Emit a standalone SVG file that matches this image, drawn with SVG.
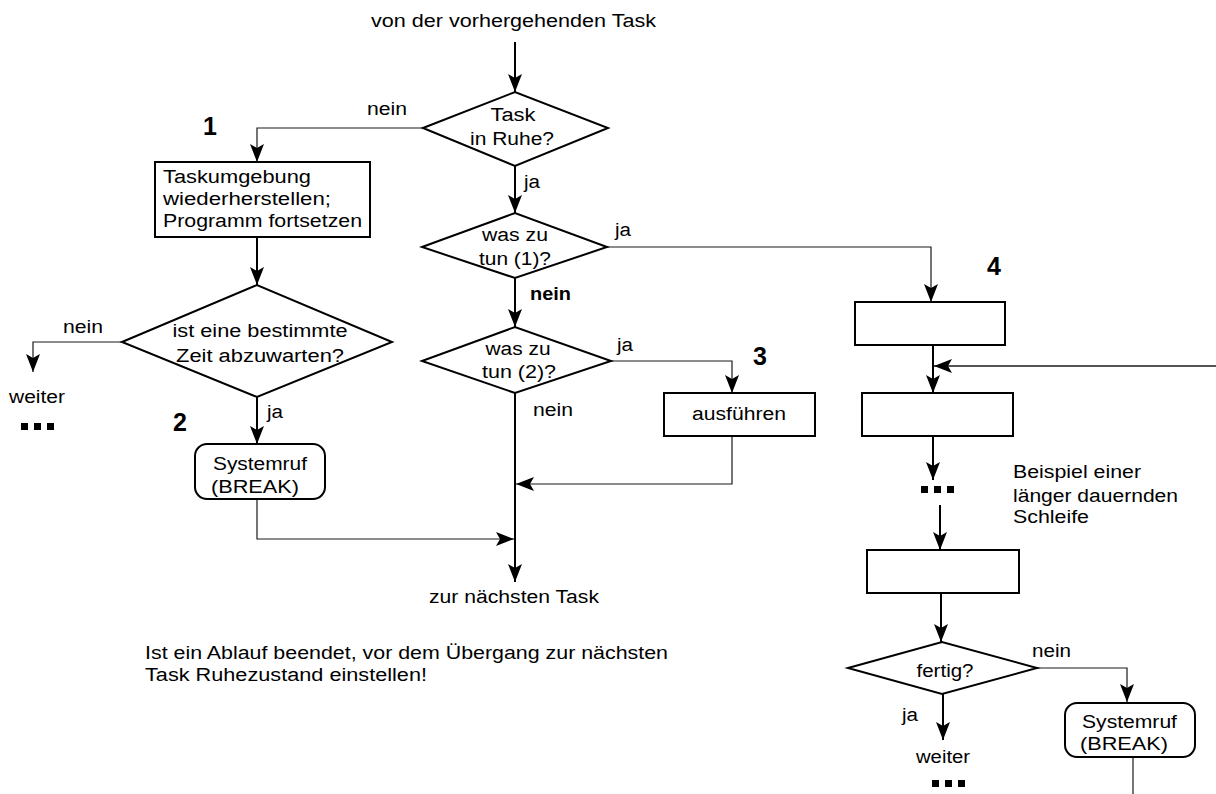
<svg xmlns="http://www.w3.org/2000/svg" width="1216" height="794" viewBox="0 0 1216 794">
  <defs>
    <style>
      text { font-family: "Liberation Sans", Arial, Helvetica, sans-serif; font-size: 18px; fill: #000; }
      .m { text-anchor: middle; }
      .b { font-weight: bold; }
      .num { font-size: 25px; font-weight: bold; }
      .shape { fill: #fff; stroke: #000; stroke-width: 2; }
      .thick { fill: none; stroke: #000; stroke-width: 2; }
      .thin { fill: none; stroke: #1a1a1a; stroke-width: 1.2; }
      .dot { fill: #000; }
    </style>
    <marker id="ah" markerUnits="userSpaceOnUse" markerWidth="20" markerHeight="16"
            viewBox="-19 -8 20 16" refX="0" refY="0" orient="auto" overflow="visible">
      <path d="M0,0 L-18,-7 L-14,0 L-18,7 Z" fill="#000"/>
    </marker>
  </defs>

  <rect width="1216" height="794" fill="#fff"/>

  <!-- connectors -->
  <g id="connectors">
    <!-- main column -->
    <path class="thick" d="M515,42 V92" marker-end="url(#ah)"/>
    <path class="thick" d="M515,166 V213" marker-end="url(#ah)"/>
    <path class="thick" d="M515,278 V327" marker-end="url(#ah)"/>
    <path class="thick" d="M515,393 V582" marker-end="url(#ah)"/>
    <!-- left column -->
    <path class="thin" d="M423,128 H257 V162" marker-end="url(#ah)"/>
    <path class="thick" d="M257,237 V285" marker-end="url(#ah)"/>
    <path class="thin" d="M122,342 H33 V372" marker-end="url(#ah)"/>
    <path class="thick" d="M257,397 V444" marker-end="url(#ah)"/>
    <path class="thin" d="M257,499 V539 H514" marker-end="url(#ah)"/>
    <!-- branch 3 -->
    <path class="thin" d="M611,361 H732 V393" marker-end="url(#ah)"/>
    <path class="thin" d="M732,436 V484 H516" marker-end="url(#ah)"/>
    <!-- branch 4 -->
    <path class="thin" d="M607,247 H931 V302" marker-end="url(#ah)"/>
    <path class="thick" d="M933,345 V393" marker-end="url(#ah)"/>
    <path class="thin" style="stroke-width:1.6" d="M1216,366 H934" marker-end="url(#ah)"/>
    <path class="thick" d="M933,436 V480" marker-end="url(#ah)"/>
    <path class="thick" d="M940,505 V550" marker-end="url(#ah)"/>
    <path class="thick" d="M941,593 V642" marker-end="url(#ah)"/>
    <path class="thick" d="M943,694 V740" marker-end="url(#ah)"/>
    <path class="thin" d="M1037,668 H1127 V702" marker-end="url(#ah)"/>
    <path class="thin" d="M1133,757 V794"/>

    <!-- branch labels -->
    <text x="367" y="115" textLength="40" lengthAdjust="spacingAndGlyphs">nein</text>
    <text x="524" y="188" textLength="16" lengthAdjust="spacingAndGlyphs">ja</text>
    <text x="615" y="236" textLength="16" lengthAdjust="spacingAndGlyphs">ja</text>
    <text class="b" x="530" y="300" textLength="41" lengthAdjust="spacingAndGlyphs">nein</text>
    <text x="617" y="351" textLength="16" lengthAdjust="spacingAndGlyphs">ja</text>
    <text x="533" y="416" textLength="40" lengthAdjust="spacingAndGlyphs">nein</text>
    <text x="63" y="333" textLength="40" lengthAdjust="spacingAndGlyphs">nein</text>
    <text x="267" y="418" textLength="16" lengthAdjust="spacingAndGlyphs">ja</text>
    <text x="1032" y="657" textLength="39" lengthAdjust="spacingAndGlyphs">nein</text>
    <text x="902" y="721" textLength="16" lengthAdjust="spacingAndGlyphs">ja</text>
  </g>

  <!-- entry / exit labels -->
  <g id="entry">
    <text x="371" y="27" textLength="285" lengthAdjust="spacingAndGlyphs">von der vorhergehenden Task</text>
  </g>
  <g id="exit">
    <text class="m" x="514" y="603" textLength="170" lengthAdjust="spacingAndGlyphs">zur nächsten Task</text>
  </g>

  <!-- decision: task idle -->
  <g id="n-ruhe">
    <polygon class="shape" points="423,128 515,92 608,128 515,166"/>
    <text class="m" x="513" y="121" textLength="45" lengthAdjust="spacingAndGlyphs">Task</text>
    <text class="m" x="512" y="145" textLength="84" lengthAdjust="spacingAndGlyphs">in Ruhe?</text>
  </g>

  <!-- step 1: restore task -->
  <g id="n-restore">
    <text class="num" x="203" y="135">1</text>
    <rect class="shape" x="155" y="162" width="215" height="75"/>
    <text x="163" y="183" textLength="148" lengthAdjust="spacingAndGlyphs">Taskumgebung</text>
    <text x="163" y="205" textLength="168" lengthAdjust="spacingAndGlyphs">wiederherstellen;</text>
    <text x="163" y="227" textLength="199" lengthAdjust="spacingAndGlyphs">Programm fortsetzen</text>
  </g>

  <!-- decision: wait for time -->
  <g id="n-wait">
    <polygon class="shape" points="122,342 257,285 392,342 257,397"/>
    <text class="m" x="260" y="337" textLength="175" lengthAdjust="spacingAndGlyphs">ist eine bestimmte</text>
    <text class="m" x="260" y="362" textLength="168" lengthAdjust="spacingAndGlyphs">Zeit abzuwarten?</text>
  </g>

  <!-- continue (left) -->
  <g id="n-weiter-left">
    <text x="9" y="403" textLength="56" lengthAdjust="spacingAndGlyphs">weiter</text>
    <rect class="dot" x="21" y="423" width="7" height="7"/>
    <rect class="dot" x="34" y="423" width="7" height="7"/>
    <rect class="dot" x="47" y="423" width="7" height="7"/>
  </g>

  <!-- step 2: system call -->
  <g id="n-break-1">
    <text class="num" x="173" y="431">2</text>
    <rect class="shape" x="195" y="444" width="130" height="55" rx="12" ry="12"/>
    <text x="213" y="470" textLength="94" lengthAdjust="spacingAndGlyphs">Systemruf</text>
    <text x="211" y="493" textLength="88" lengthAdjust="spacingAndGlyphs">(BREAK)</text>
  </g>

  <!-- decision: work (1) -->
  <g id="n-todo-1">
    <polygon class="shape" points="422,247 515,213 607,247 515,278"/>
    <text class="m" x="515" y="241" textLength="66" lengthAdjust="spacingAndGlyphs">was zu</text>
    <text class="m" x="515" y="265" textLength="72" lengthAdjust="spacingAndGlyphs">tun (1)?</text>
  </g>

  <!-- decision: work (2) -->
  <g id="n-todo-2">
    <polygon class="shape" points="422,361 515,327 611,361 515,393"/>
    <text class="m" x="518" y="355" textLength="65" lengthAdjust="spacingAndGlyphs">was zu</text>
    <text class="m" x="519" y="378" textLength="74" lengthAdjust="spacingAndGlyphs">tun (2)?</text>
  </g>

  <!-- step 3: execute -->
  <g id="n-execute">
    <text class="num" x="753" y="365">3</text>
    <rect class="shape" x="664" y="393" width="151" height="43"/>
    <text class="m" x="739" y="420" textLength="94" lengthAdjust="spacingAndGlyphs">ausführen</text>
  </g>

  <!-- step 4: longer loop -->
  <g id="n-loop-a">
    <text class="num" x="987" y="275">4</text>
    <rect class="shape" x="855" y="302" width="150" height="43"/>
  </g>
  <g id="n-loop-b">
    <rect class="shape" x="862" y="393" width="151" height="43"/>
  </g>
  <g id="n-loop-gap">
    <rect class="dot" x="921" y="486" width="7" height="7"/>
    <rect class="dot" x="934" y="486" width="7" height="7"/>
    <rect class="dot" x="947" y="486" width="7" height="7"/>
  </g>
  <g id="n-loop-note">
    <text x="1013" y="478" textLength="128" lengthAdjust="spacingAndGlyphs">Beispiel einer</text>
    <text x="1013" y="502" textLength="165" lengthAdjust="spacingAndGlyphs">länger dauernden</text>
    <text x="1013" y="523" textLength="76" lengthAdjust="spacingAndGlyphs">Schleife</text>
  </g>
  <g id="n-loop-c">
    <rect class="shape" x="867" y="550" width="152" height="43"/>
  </g>

  <!-- decision: done -->
  <g id="n-done">
    <polygon class="shape" points="848,668 942,642 1037,668 942,694"/>
    <text class="m" x="945" y="677" textLength="57" lengthAdjust="spacingAndGlyphs">fertig?</text>
  </g>

  <!-- continue (right) -->
  <g id="n-weiter-right">
    <text class="m" x="943" y="763" textLength="54" lengthAdjust="spacingAndGlyphs">weiter</text>
    <rect class="dot" x="932" y="780" width="7" height="7"/>
    <rect class="dot" x="945" y="780" width="7" height="7"/>
    <rect class="dot" x="958" y="780" width="7" height="7"/>
  </g>

  <!-- system call in loop -->
  <g id="n-break-2">
    <rect class="shape" x="1065" y="703" width="130" height="54" rx="12" ry="12"/>
    <text x="1082" y="728" textLength="95" lengthAdjust="spacingAndGlyphs">Systemruf</text>
    <text x="1080" y="750" textLength="88" lengthAdjust="spacingAndGlyphs">(BREAK)</text>
  </g>

  <!-- note -->
  <g id="note">
    <text x="145" y="659" textLength="523" lengthAdjust="spacingAndGlyphs">Ist ein Ablauf beendet, vor dem Übergang zur nächsten</text>
    <text x="145" y="681" textLength="282" lengthAdjust="spacingAndGlyphs">Task Ruhezustand einstellen!</text>
  </g>
</svg>
